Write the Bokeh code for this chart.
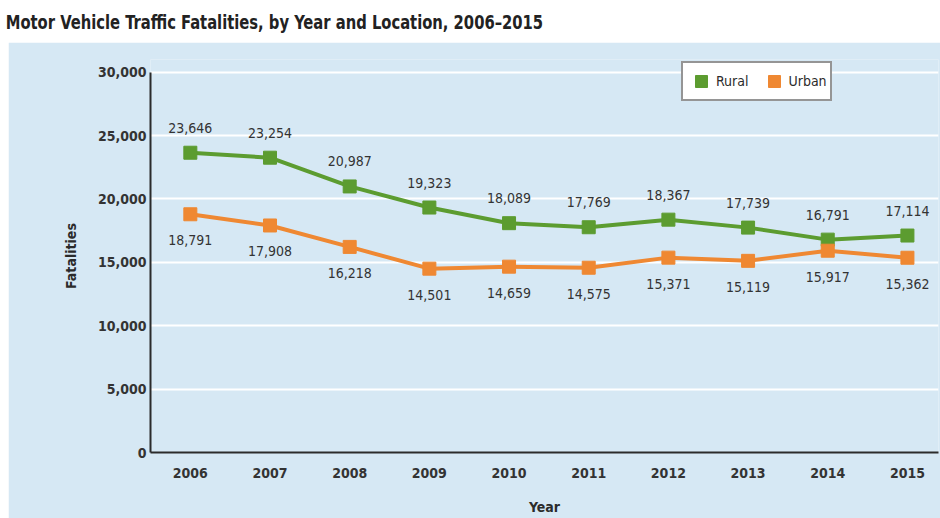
from bokeh.plotting import figure
from bokeh.models import (ColumnDataSource, Range1d, FixedTicker, NumeralTickFormatter,
                          Legend, LegendItem, Div, Spacer)
from bokeh.layouts import column, row
from bokeh.core.properties import value
from bokeh.embed import file_html
from bokeh.resources import INLINE

years = [2006, 2007, 2008, 2009, 2010, 2011, 2012, 2013, 2014, 2015]
rural = [23646, 23254, 20987, 19323, 18089, 17769, 18367, 17739, 16791, 17114]
urban = [18791, 17908, 16218, 14501, 14659, 14575, 15371, 15119, 15917, 15362]
y_ticks = [0, 5000, 10000, 15000, 20000, 25000, 30000]

FONT = "'DejaVu Sans Condensed', sans-serif"
PANEL = "#d6e8f4"
GREEN = "#5c9c30"
ORANGE = "#ef8832"
INK = "#2b2b2b"

src = ColumnDataSource(dict(
    year=years, rural=rural, urban=urban,
    rural_lbl=[f"{v:,}" for v in rural],
    urban_lbl=[f"{v:,}" for v in urban],
))

# headroom above 30,000 so the legend box sits inside the frame
p = figure(width=932, height=476, output_backend="svg", toolbar_location=None,
           x_range=Range1d(2005.5, 2015.39), y_range=Range1d(0, 31000),
           min_border_left=142, min_border_right=2, min_border_top=17,
           min_border_bottom=66, margin=0)
p.background_fill_color = PANEL
p.border_fill_color = PANEL
p.outline_line_color = None

# axes
p.xaxis.ticker = FixedTicker(ticks=years)
p.yaxis.ticker = FixedTicker(ticks=y_ticks)
p.yaxis.formatter = NumeralTickFormatter(format="0,0")
p.yaxis.bounds = (0, 30000)
for ax in (p.xaxis[0], p.yaxis[0]):
    ax.axis_line_color = INK
    ax.axis_line_width = 2
    ax.major_tick_line_color = None
    ax.minor_tick_line_color = None
    ax.major_tick_out = 0
    ax.minor_tick_out = 0
    ax.major_label_text_font = FONT
    ax.major_label_text_font_style = "bold"
    ax.major_label_text_font_size = "14px"
    ax.major_label_text_color = "#333333"
    ax.axis_label_text_font = FONT
    ax.axis_label_text_font_style = "bold"
    ax.axis_label_text_font_size = "14px"
    ax.axis_label_text_color = INK
p.xaxis.axis_label = "Year"
p.yaxis.axis_label = "Fatalities"
p.xaxis.major_label_standoff = 15
p.yaxis.major_label_standoff = 4
p.xaxis.axis_label_standoff = 18
p.yaxis.axis_label_standoff = 16

p.xgrid.grid_line_color = None
p.ygrid.ticker = FixedTicker(ticks=y_ticks)
p.ygrid.grid_line_color = "white"
p.ygrid.grid_line_width = 2

# series
p.line("year", "rural", source=src, line_color=GREEN, line_width=4)
r_rural = p.scatter("year", "rural", source=src, marker="square", size=13,
                    fill_color=GREEN, line_color=GREEN)
p.line("year", "urban", source=src, line_color=ORANGE, line_width=4)
r_urban = p.scatter("year", "urban", source=src, marker="square", size=13,
                    fill_color=ORANGE, line_color=ORANGE)

# value labels
p.text("year", "rural", text="rural_lbl", source=src, y_offset=-25,
       text_align="center", text_baseline="middle", text_font=value(FONT),
       text_font_size="14px", text_color="#333333")
p.text("year", "urban", text="urban_lbl", source=src, y_offset=26,
       text_align="center", text_baseline="middle", text_font=value(FONT),
       text_font_size="14px", text_color="#333333")

# legend: square markers only
legend = Legend(items=[LegendItem(label="Rural", renderers=[r_rural]),
                       LegendItem(label="Urban", renderers=[r_urban])],
                orientation="horizontal", location=(531, 351))
legend.label_text_font = FONT
legend.label_text_font_size = "14px"
legend.label_text_color = INK
legend.border_line_color = INK
legend.border_line_width = 2
legend.background_fill_color = "white"
legend.background_fill_alpha = 1
legend.glyph_width = 30
legend.glyph_height = 30
legend.label_standoff = 0
legend.spacing = 10
legend.padding = 3
legend.margin = 0
p.add_layout(legend, "center")

title = Div(text="Motor Vehicle Traffic Fatalities, by Year and Location, 2006\u20132015",
            width=940, height=42, margin=0,
            styles={"font-family": FONT, "font-weight": "bold", "font-size": "20px",
                    "color": "#222222", "box-sizing": "border-box",
                    "padding-left": "7px", "padding-top": "8px",
                    "transform": "scaleX(0.82)", "transform-origin": "left top",
                    "white-space": "nowrap"})

layout = column(title, row(Spacer(width=8, height=476, margin=0), p, margin=0),
                spacing=0, margin=0)

open("out.html", "w").write(file_html(layout, INLINE))
